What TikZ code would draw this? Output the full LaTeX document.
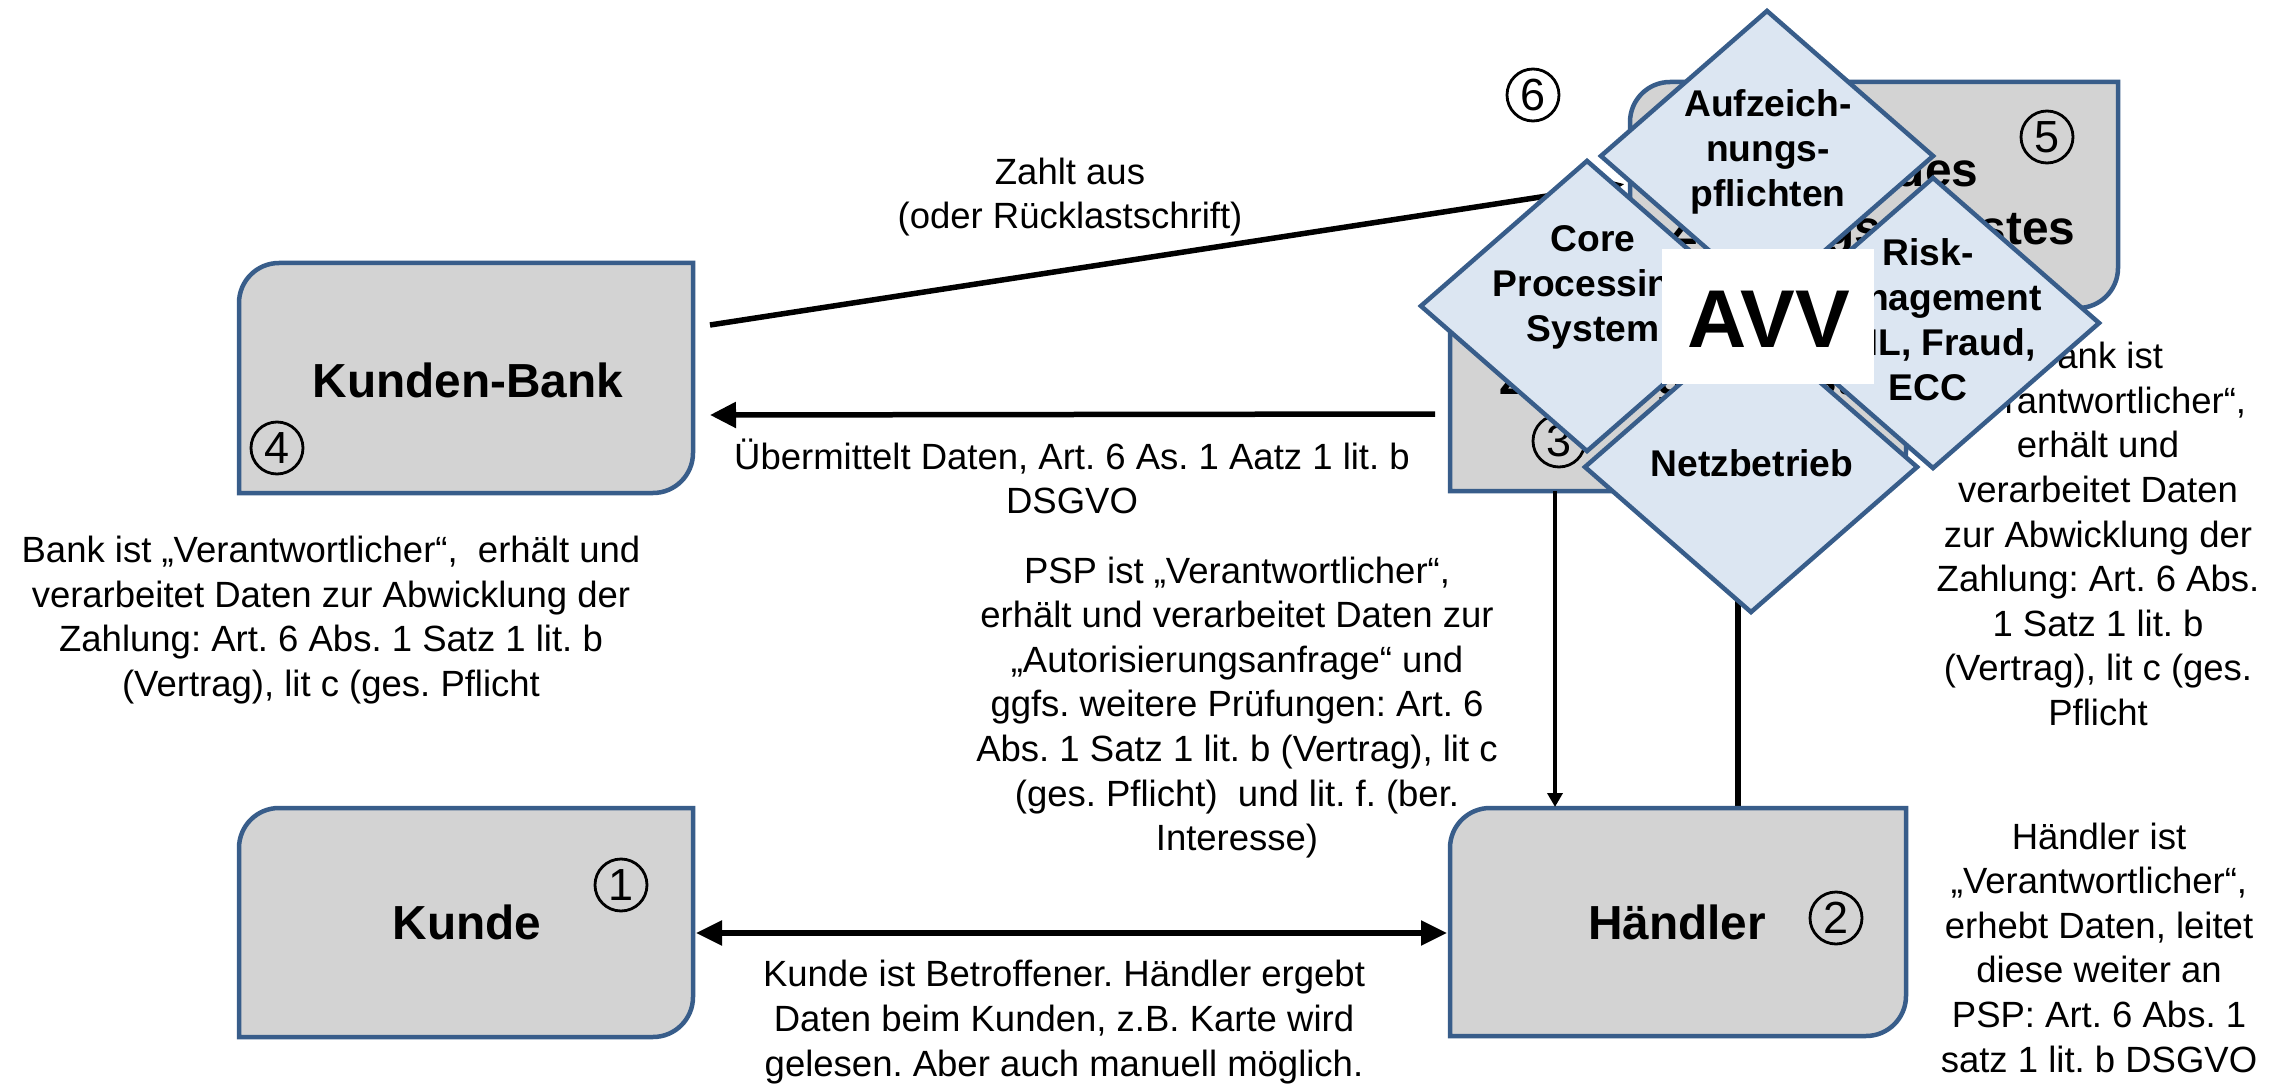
\documentclass[tikz,border=0pt]{standalone}
\usepackage{fontspec}
\setmainfont{Liberation Sans}
\usetikzlibrary{shapes.geometric,arrows.meta,calc}
\frenchspacing

\definecolor{frame}{RGB}{56,93,138}
\definecolor{boxfill}{RGB}{211,211,211}
\definecolor{diafill}{RGB}{220,230,242}

% rectangle with rounded top-left and bottom-right corners, drawn around a named area node
\newcommand\cornerbox[1]{%
  \draw[boxline] (#1.south west) -- ($(#1.north west)+(0,40)$)
    arc[start angle=180,end angle=270,radius=40] -- (#1.north east)
    -- ($(#1.south east)+(0,-40)$)
    arc[start angle=0,end angle=90,radius=40] -- cycle;}

\begin{document}
\begin{tikzpicture}[x=1pt,y=-1pt,
  area/.style={rectangle,inner sep=0,outer sep=0,draw=none},
  boxline/.style={draw=frame,fill=boxfill,line width=4.5},
  boxlabel/.style={inner sep=0,align=center,font=\fontsize{47.8}{58}\selectfont\bfseries},
  num/.style={circle,draw=black,line width=2.8,minimum size=52,inner sep=0,font=\fontsize{45}{45}\selectfont},
  txt/.style={inner sep=0,align=center,font=\fontsize{36.5}{44.6}\selectfont},
  dia/.style={diamond,draw=frame,fill=diafill,line width=4.5,minimum width=334,minimum height=292,inner sep=0},
  diatext/.style={inner sep=0,align=center,font=\fontsize{37.2}{45}\selectfont\bfseries},
  conn/.style={draw=black,line width=5.5},
  bighead/.style={-{Triangle[length=26,width=25]}},
  smallhead/.style={-{Triangle[length=14,width=15]}},
]
\useasboundingbox[fill=white] (0,0) rectangle (2287,1086);

% bank of the payment service (5)
\node[area,minimum width=488,minimum height=226] (bank5) at (1874,195) {};
\cornerbox{bank5}
\node[boxlabel] (bank5-label) at (1872,203) {Bank des\\Zahlungsdienstes};
\node[num] (n5) at (2047,137) {5};

% customer bank (4)
\node[area,minimum width=454,minimum height=230] (kb) at (466,378) {};
\cornerbox{kb}
\node[boxlabel] (kb-label) at (468,380) {Kunden-Bank};
\node[num] (n4) at (277,448) {4};

% payout line and line down to the merchant
\draw[conn,-{Triangle[length=24,width=18]}] ($(kb.east)+(17,-53)$) -- ($(bank5.west)+(-5,-11)$);
\draw[conn] ($(bank5.south)+(-136,0)$) -- ($(bank5.south)+(-136,500)$) coordinate (haendler-top-right);

% payment service provider (3)
\node[area,minimum width=456,minimum height=228] (psp) at (1678,377) {};
\cornerbox{psp}
\node[boxlabel] (psp-label) at (1676,382) {Zahlungsdienst};
\node[num] (n3) at (1559,441) {3};

% customer (1) and merchant (2)
\node[area,minimum width=454,minimum height=229] (kunde) at (466,922.5) {};
\cornerbox{kunde}
\node[boxlabel] (kunde-label) at (467,922.5) {Kunde};
\node[num] (n1) at (621,885) {1};

\node[area,minimum width=456,minimum height=228] (haendler) at (1678,922) {};
\cornerbox{haendler}
\node[boxlabel] (haendler-label) at (1677,922.5) {Händler};
\node[num] (n2) at (1836,918) {2};

% data flows
\draw[conn,bighead] ($(psp.west)+(-15,37)$) -- ($(kb.east)+(17,37)$);
\draw[draw=black,line width=4.5,smallhead] ($(psp.south)+(-123,0)$) -- ($(haendler.north)+(-123,-1)$);
\draw[conn,{Triangle[length=26,width=24]}-{Triangle[length=26,width=24]}]
  ($(kunde.east)+(3,10.5)$) -- ($(haendler.west)+(-3,11)$);

% explanations
\node[txt] (t-zahlt) at (1070,197) {Zahlt aus\\(oder Rücklastschrift)};
\node[txt] (t-uebermittelt) at (1072,476.5) {Übermittelt Daten, Art. 6 As. 1 Aatz 1 lit. b\\DSGVO};
\node[txt] (t-kb) at (331,620) {Bank ist „Verantwortlicher“,\ \ erhält und\\verarbeitet Daten zur Abwicklung der\\Zahlung: Art. 6 Abs. 1 Satz 1 lit. b\\(Vertrag), lit c (ges. Pflicht};
\node[txt] (t-psp) at (1237,707.5) {PSP ist „Verantwortlicher“,\\erhält und verarbeitet Daten zur\\„Autorisierungsanfrage“ und\\ggfs. weitere Prüfungen: Art. 6\\Abs. 1 Satz 1 lit. b (Vertrag), lit c\\(ges. Pflicht)\ \ und lit. f. (ber.\\Interesse)};
\node[txt] (t-bank5) at (2098,534) {Bank ist\\„Verantwortlicher“,\\erhält und\\verarbeitet Daten\\zur Abwicklung der\\Zahlung: Art. 6 Abs.\\1 Satz 1 lit. b\\(Vertrag), lit c (ges.\\Pflicht};
\node[txt] (t-haendler) at (2099,947.5) {Händler ist\\„Verantwortlicher“,\\erhebt Daten, leitet\\diese weiter an\\PSP: Art. 6 Abs. 1\\satz 1 lit. b DSGVO};
\node[txt] (t-kunde) at (1064,1022) {Kunde ist Betroffener. Händler ergebt\\Daten beim Kunden, z.B. Karte wird\\gelesen. Aber auch manuell möglich.};

% processor tasks
\node[dia] (d-aufz) at (1767,156) {};
\node[diatext] (d-aufz-label) at (1768,152) {Aufzeich-\\nungs-\\pflichten};
\node[dia] (d-core) at (1587,306) {};
\node[diatext] (d-core-label) at (1593,287) {Core\\Processing\\System};
\node[dia] (d-risk) at (1933,323) {};
\node[diatext] (d-risk-label) at (1928,319.5) {Risk-\\Management\\AML, Fraud,\\ECC};
\node[dia] (d-netz) at (1751,467) {};
\node[diatext] (d-netz-label) at (1752,463.5) {Netzbetrieb};

% processing agreement
\node[area,fill=white,minimum width=212,minimum height=135] (avv) at (1768,316.5) {};
\node[inner sep=0,font=\fontsize{82}{82}\selectfont\bfseries] (avv-label) at (1769,319.5) {AVV};

\node[num] (n6) at (1533,95) {6};
\end{tikzpicture}
\end{document}
